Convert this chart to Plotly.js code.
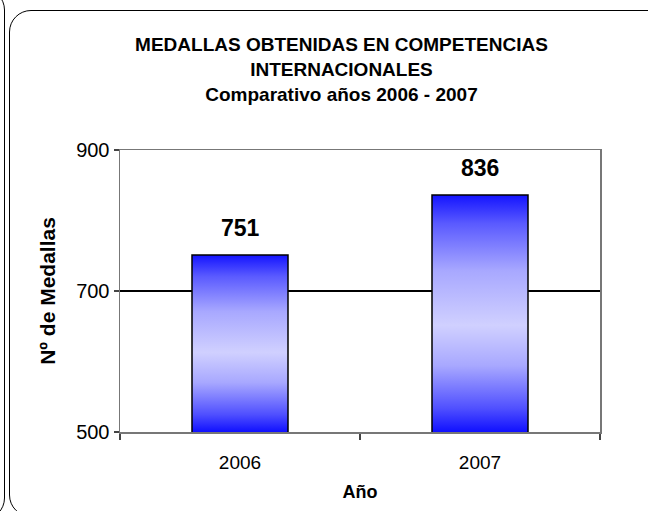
<!DOCTYPE html>
<html>
<head>
<meta charset="utf-8">
<script src="https://cdn.plot.ly/plotly-3.0.1.min.js"></script>
<style>
html,body{margin:0;padding:0;background:#fff;overflow:hidden;}
#wrap{position:relative;width:648px;height:511px;overflow:hidden;}
#chart{position:absolute;left:0;top:0;width:648px;height:511px;}
.frame{position:absolute;border:1.3px solid #000;border-radius:22px;pointer-events:none;}
</style>
</head>
<body>
<div id="wrap">
<div class="frame" style="left:-60px;top:-12px;width:63px;height:530px;"></div>
<div class="frame" style="left:9px;top:10px;width:660px;height:505px;"></div>
<div id="chart"></div>
</div>
<script>
// Data
var years = ['2006', '2007'];
var medals = [751, 836];
var yTicks = [500, 700, 900];
var chartTitle = 'MEDALLAS OBTENIDAS EN COMPETENCIAS<br>INTERNACIONALES<br>Comparativo años 2006 - 2007';
var xTitle = 'Año';
var yTitle = 'Nº de Medallas';

var FONT = 'Liberation Sans, Arial, sans-serif';

var trace = {
  type: 'bar',
  x: years,
  y: medals,
  marker: {color: '#8080ff', line: {color: '#000', width: 1.5}},
  hoverinfo: 'none'
};

var annotations = years.map(function(yr, i){
  return {
    x: i, y: medals[i], xref: 'x', yref: 'y',
    text: '<b>' + medals[i] + '</b>',
    showarrow: false, yanchor: 'bottom', yshift: 12,
    font: {family: FONT, size: 23, color: '#000'}
  };
});

var layout = {
  width: 648, height: 511,
  margin: {l: 120, r: 48, t: 150, b: 79},
  paper_bgcolor: 'rgba(0,0,0,0)',
  plot_bgcolor: '#fff',
  showlegend: false,
  bargap: 0.6,
  title: {
    text: '<b>' + chartTitle + '</b>',
    x: 0.527, xanchor: 'center', y: 0.90, yanchor: 'top',
    font: {family: FONT, size: 19, color: '#000'}
  },
  xaxis: {
    type: 'category',
    range: [-0.5, 1.5],
    tickson: 'boundaries',
    ticks: 'outside', ticklen: 6, tickcolor: '#444', tickwidth: 1.5,
    ticklabelstandoff: 13,
    showline: true, linecolor: '#777', linewidth: 1.5, mirror: true,
    showgrid: false,
    tickangle: 0,
    tickfont: {family: FONT, size: 19, color: '#000'},
    title: {text: '<b>' + xTitle + '</b>', standoff: 13, font: {family: FONT, size: 18, color: '#000'}}
  },
  yaxis: {
    range: [500, 900],
    tickvals: yTicks,
    ticks: 'outside', ticklen: 5, tickcolor: '#444', tickwidth: 1.5,
    showline: true, linecolor: '#777', linewidth: 1.5, mirror: true,
    showgrid: true, gridcolor: '#000', gridwidth: 1.5,
    zeroline: false,
    tickfont: {family: FONT, size: 20, color: '#000'},
    title: {text: '<b>' + yTitle + '</b>', standoff: 15, font: {family: FONT, size: 21, color: '#000'}}
  },
  annotations: annotations
};

Plotly.newPlot('chart', [trace], layout, {displayModeBar: false, staticPlot: true}).then(function(gd){
  var svg = gd.querySelector('svg.main-svg');
  var ns = 'http://www.w3.org/2000/svg';
  var defs = svg.querySelector('defs') || svg.insertBefore(document.createElementNS(ns, 'defs'), svg.firstChild);
  var plotH = gd._fullLayout.yaxis._length;
  var stops = [[0, '#1414ff'], [0.12, '#5a5aff'], [0.32, '#a8a8ff'], [0.55, '#d0d0ff'], [0.72, '#a8a8ff'], [0.9, '#5050ff'], [1, '#1010ff']];
  gd.querySelectorAll('.bars .point path').forEach(function(p, k){
    var bb = p.getBBox();
    var top = Math.max(bb.y, 0);
    var g = document.createElementNS(ns, 'linearGradient');
    g.setAttribute('id', 'barGrad' + k);
    g.setAttribute('gradientUnits', 'userSpaceOnUse');
    g.setAttribute('x1', '0'); g.setAttribute('y1', String(top));
    g.setAttribute('x2', '0'); g.setAttribute('y2', String(plotH));
    stops.forEach(function(s){
      var st = document.createElementNS(ns, 'stop');
      st.setAttribute('offset', s[0]);
      st.setAttribute('stop-color', s[1]);
      g.appendChild(st);
    });
    defs.appendChild(g);
    p.style.fill = 'url(#barGrad' + k + ')';
  });
});
</script>
</body>
</html>
